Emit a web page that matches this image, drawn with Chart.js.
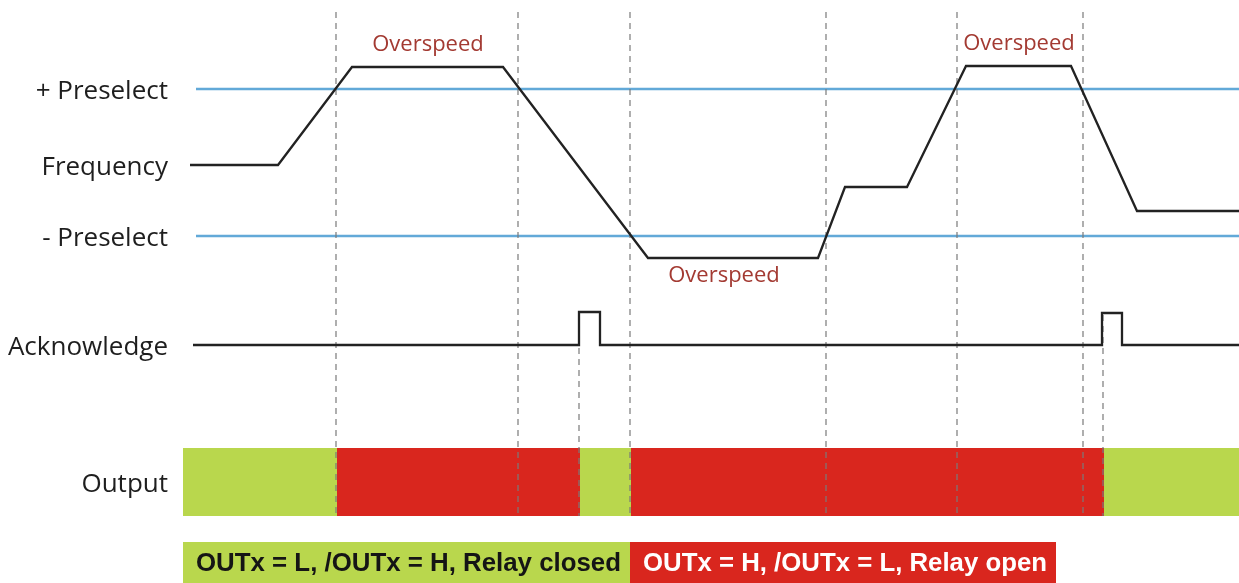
<!DOCTYPE html>
<html>
<head>
<meta charset="utf-8">
<script src="https://cdn.jsdelivr.net/npm/chart.js@4/dist/chart.umd.min.js"></script>
<style>
  html, body { margin: 0; padding: 0; background: #fff; }
  #wrap { width: 1239px; height: 583px; }
</style>
</head>
<body>
<div id="wrap"><canvas id="graph" width="1239" height="583"></canvas></div>
<script>
// signal rows on the left
const levelTicks = [494, 418, 347, 238, 101];
const levelLabels = ["+ Preselect", "Frequency", "- Preselect", "Acknowledge", "Output"];

// frequency trace
const freqTime = [7, 95, 169, 320, 465, 635, 662, 724, 783, 888, 954, 1056];
const freqLevel = [418, 418, 516, 516, 325, 325, 396, 396, 517, 517, 372, 372];

// preselect thresholds
const preselectTime = [13, 1056];
const preselectPlus = 494;
const preselectMinus = 347;

// acknowledge pulses
const ackTime = [10, 396, 396, 417, 417, 919, 919, 939, 939, 1056];
const ackLevel = [238, 238, 271, 271, 238, 238, 270, 270, 238, 238];

// switching instants (dashed markers)
const markerTime = [153, 335, 396, 447, 643, 774, 900, 920];
const markerTop = [571, 571, 268, 571, 571, 571, 571, 268];
const markerBottom = 67;

// output state
const outputEdges = [0, 154, 397, 448, 921, 1056];
const outputState = ["L", "H", "L", "H", "L"];
const outputTop = 135;
const outputBottom = 67;

// state legend
const legendEdges = [0, 447, 873];
const legendState = ["L", "H"];
const legendTexts = ["OUTx = L, /OUTx = H, Relay closed", "OUTx = H, /OUTx = L, Relay open"];
const legendTextWidth = [425, 404];
const legendTop = 41;
const legendBottom = 0;
const legendTextLevel = 19;

// overspeed notes
const overspeedTime = [245, 541, 836];
const overspeedLevel = [538, 307, 539];

const stateColor = { L: "#b9d74d", H: "#d9261e" };

const pts = (xs, ys) => xs.map((t, i) => ({ x: t, y: ys[i] }));

const datasets = [];

datasets.push({
  data: pts(freqTime, freqLevel),
  borderColor: "#222", borderWidth: 2.3, order: 0
});
datasets.push({
  data: pts(ackTime, ackLevel),
  borderColor: "#222", borderWidth: 2.3, order: 0
});
[preselectPlus, preselectMinus].forEach((lvl) => {
  datasets.push({
    data: preselectTime.map((t) => ({ x: t, y: lvl })),
    borderColor: "#62a9d8", borderWidth: 2.5, order: 2
  });
});

// dashed markers in one dataset, broken by gaps
const markerData = [];
markerTime.forEach((t, i) => {
  markerData.push({ x: t, y: markerTop[i] }, { x: t, y: markerBottom }, { x: t, y: null });
});
datasets.push({
  data: markerData,
  borderColor: "#7a7a7a", borderWidth: 1.2, borderDash: [6, 5], spanGaps: false, order: 1
});

outputState.forEach((s, i) => {
  datasets.push({
    data: [{ x: outputEdges[i], y: outputTop }, { x: outputEdges[i + 1], y: outputTop }],
    borderWidth: 0, backgroundColor: stateColor[s], fill: { value: outputBottom }, order: 3
  });
});
legendState.forEach((s, i) => {
  datasets.push({
    data: [{ x: legendEdges[i], y: legendTop }, { x: legendEdges[i + 1], y: legendTop }],
    borderWidth: 0, backgroundColor: stateColor[s], fill: { value: legendBottom }, order: 3
  });
});

// text notes on top of the traces
const notes = {
  id: "notes",
  afterDatasetsDraw(chart) {
    const { ctx, scales: { x, y } } = chart;
    ctx.save();
    ctx.font = "22px 'Open Sans'";
    ctx.fillStyle = "#a33a32";
    ctx.textAlign = "center";
    ctx.textBaseline = "middle";
    overspeedTime.forEach((t, i) => {
      ctx.fillText("Overspeed", x.getPixelForValue(t), y.getPixelForValue(overspeedLevel[i]));
    });
    // condensed bold caption, squeezed to the box
    ctx.font = "bold 26px 'Liberation Sans', Arial, sans-serif";
    ctx.textAlign = "left";
    legendTexts.forEach((text, i) => {
      ctx.fillStyle = legendState[i] === "L" ? "#151515" : "#fff";
      ctx.fillText(text, x.getPixelForValue(legendEdges[i]) + 13,
        y.getPixelForValue(legendTextLevel), legendTextWidth[i]);
    });
    ctx.restore();
  }
};

new Chart(document.getElementById("graph"), {
  type: "line",
  data: { datasets },
  options: {
    responsive: false,
    animation: false,
    devicePixelRatio: 1,
    layout: { padding: 0 },
    elements: {
      point: { radius: 0, hoverRadius: 0 },
      line: { tension: 0, borderJoinStyle: "miter", fill: false }
    },
    scales: {
      x: {
        type: "linear", min: 0, max: 1056, display: false
      },
      y: {
        type: "linear", min: 0, max: 583,
        grid: { display: false },
        border: { display: false },
        afterBuildTicks(scale) {
          scale.ticks = levelTicks.map((v) => ({ value: v }));
        },
        afterFit(scale) {
          scale.width = 183;
          scale.paddingTop = 0;
          scale.paddingBottom = 0;
        },
        ticks: {
          padding: 7,
          labelOffset: 3,
          color: "#1e1e1e",
          font: { family: "'Open Sans'", size: 26 },
          callback(value) {
            const i = levelTicks.indexOf(value);
            return i >= 0 ? levelLabels[i] : "";
          }
        }
      }
    },
    plugins: {
      legend: { display: false },
      tooltip: { enabled: false }
    }
  },
  plugins: [notes]
});
</script>
</body>
</html>
